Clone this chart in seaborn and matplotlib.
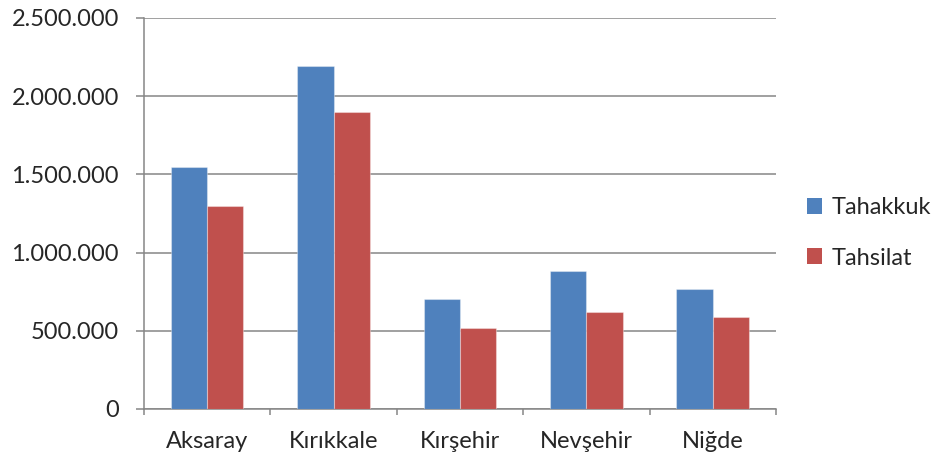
import pandas as pd
import numpy as np
import matplotlib.pyplot as plt
import seaborn as sns
from matplotlib.ticker import FuncFormatter, FixedLocator
from matplotlib.patches import Patch

iller = ["Aksaray", "Kırıkkale", "Kırşehir", "Nevşehir", "Niğde"]
tahakkuk = [1550000, 2195000, 700000, 880000, 770000]
tahsilat = [1295000, 1900000, 515000, 622000, 590000]
seriler = ["Tahakkuk", "Tahsilat"]
renkler = ["#4F81BD", "#C0504D"]

df = pd.DataFrame({
    "il": iller * 2,
    "seri": [seriler[0]] * len(iller) + [seriler[1]] * len(iller),
    "deger": tahakkuk + tahsilat,
})

sns.set_style("white")
plt.rcParams["font.family"] = ["Lato", "DejaVu Sans"]

fig = plt.figure(figsize=(9.36, 4.59), dpi=100)
ax = fig.add_axes([0.1538, 0.109, 0.829 - 0.1538, 0.9608 - 0.109])

sns.barplot(
    data=df,
    x="il",
    y="deger",
    hue="seri",
    palette=renkler,
    saturation=1,
    width=0.575,
    edgecolor=(1, 1, 1, 0.35),
    linewidth=0.8,
    legend=False,
    ax=ax,
    zorder=3,
)

grid_renk = "#868686"
ax.set_ylim(0, 2500000)
ax.set_xlim(-0.5, 4.5)
ax.yaxis.set_major_locator(FixedLocator(np.arange(0, 2500001, 500000)))
ax.yaxis.set_major_formatter(
    FuncFormatter(lambda v, p: f"{v:,.0f}".replace(",", "."))
)
ax.grid(axis="y", color=grid_renk, linewidth=1.1, zorder=0)
ax.set_axisbelow(True)

for s in ["top", "right"]:
    ax.spines[s].set_visible(False)
for s in ["left", "bottom"]:
    ax.spines[s].set_color(grid_renk)
    ax.spines[s].set_linewidth(1.1)

ax.set_xlabel("")
ax.set_ylabel("")
ax.tick_params(axis="y", length=6, width=1.1, color=grid_renk,
               labelsize=17, pad=12, left=True)
ax.tick_params(axis="x", which="major", length=0, labelsize=17, pad=16)
ax.set_xticks(np.arange(-0.5, 5, 1), minor=True)
ax.tick_params(axis="x", which="minor", length=4.5, width=1.1,
               color=grid_renk, bottom=True)

# legend on the right, square handles
tutamaclar = [Patch(facecolor=c, edgecolor="none") for c in renkler]
fig.legend(
    tutamaclar,
    seriler,
    loc="center left",
    bbox_to_anchor=(0.862, 0.4924),
    frameon=False,
    fontsize=17,
    handlelength=0.65,
    handleheight=0.65,
    handletextpad=0.4,
    labelspacing=1.24,
    borderpad=0,
    borderaxespad=0,
)

fig.savefig("out.png", dpi=100)
